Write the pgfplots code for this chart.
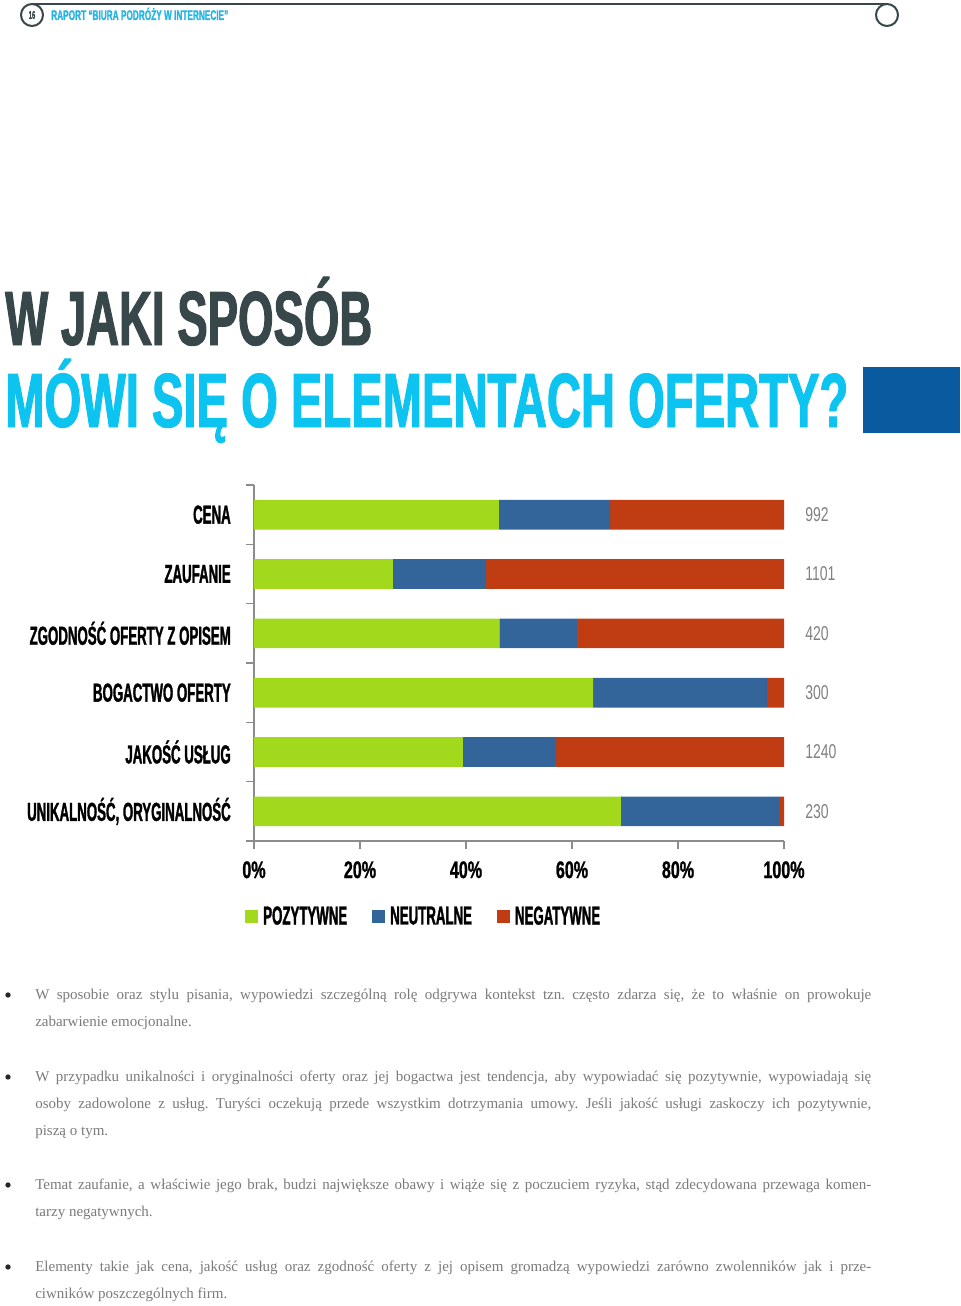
\documentclass[border=0pt]{standalone}
\usepackage{pgfplots}
\pgfplotsset{compat=1.18}
\usepackage{fontspec}
\setmainfont{Liberation Serif}
\newfontfamily\condb{Liberation Sans}[FakeStretch=0.51, FakeBold=1.2]
\newfontfamily\condt{Liberation Sans}[FakeStretch=0.67, FakeBold=1]
\newfontfamily\condv{Liberation Sans}[FakeStretch=0.7]
\definecolor{cgreen}{HTML}{A2D91C}
\definecolor{cblue}{HTML}{33659A}
\definecolor{cred}{HTML}{C03D14}
\definecolor{dark}{HTML}{37474A}
\definecolor{cyanA}{HTML}{0DC4F0}
\definecolor{cyanB}{HTML}{27B4E2}
\definecolor{navy}{HTML}{0A5AA0}
\definecolor{txtgray}{HTML}{7A7A7A}
\definecolor{axgray}{HTML}{8C8C8C}
\definecolor{valgray}{HTML}{808080}
\newsavebox\fitbox
\newlength\fitlen
\newcommand\fitw[2]{\sbox\fitbox{#2}\fitlen=\wd\fitbox\pgfmathsetmacro\fitsc{#1*0.75/\fitlen}\scalebox{\fitsc}[1]{\usebox\fitbox}}
\newcommand\jl[1]{\makebox[627pt][s]{#1}}
\newcommand\txtf{\fontsize{11.25pt}{14pt}\selectfont}
\frenchspacing
\begin{document}
\begin{tikzpicture}[x=0.75pt,y=-0.75pt]
\path (0,0) rectangle (960,1306);
\coordinate (O) at (254,841);
% header
\draw[dark, line width=1.1pt] (32,4) -- (887,4);
\draw[dark, line width=1.5pt, fill=white] (32,15) circle[radius=8.25pt];
\node[font=\condb\bfseries\fontsize{8.5pt}{8.5pt}\selectfont, text=dark, inner sep=0pt] at (32,15) {16};
\draw[dark, line width=1.5pt, fill=white] (887,15) circle[radius=8.25pt];
\node[anchor=base west, inner sep=0pt, text=cyanB, font=\condb\bfseries\fontsize{10.5pt}{11pt}\selectfont] at (51,20) {\fitw{177}{RAPORT “BIURA PODRÓŻY W INTERNECIE”}};
% title
\node[anchor=base west, inner sep=0pt, text=dark, font=\condb\bfseries\fontsize{57.6pt}{60pt}\selectfont] at (5,345) {\fitw{367}{W JAKI SPOSÓB}};
\node[anchor=base west, inner sep=0pt, text=cyanA, font=\condb\bfseries\fontsize{57.6pt}{60pt}\selectfont] at (5,427) {\fitw{843}{MÓWI SIĘ O ELEMENTACH OFERTY?}};
\fill[navy] (863,367) rectangle (960,433);
% chart
\begin{axis}[
  at={(O)}, anchor=south west, scale only axis,
  width=397.5pt, height=267pt,
  xbar stacked, bar width=0.5,
  xmin=0, xmax=100, ymin=-0.5, ymax=5.5,
  clip=false,
  axis x line*=bottom, axis y line*=left,
  axis line style={axgray, line width=0.8pt},
  tick align=outside, major tick length=6pt,
  tick style={axgray, line width=0.8pt},
  xtick={0,20,40,60,80,100},
  xticklabels={0\%,20\%,40\%,60\%,80\%,100\%},
  xticklabel style={font=\condt\bfseries\fontsize{18pt}{18pt}\selectfont, inner sep=0pt, anchor=north, yshift=-9pt},
  ytick={-0.5,0.5,1.5,2.5,3.5,4.5,5.5},
  yticklabels={},
  extra y ticks={0,1,2,3,4,5},
  extra y tick labels={{UNIKALNOŚĆ, ORYGINALNOŚĆ},{JAKOŚĆ USŁUG},{BOGACTWO OFERTY},{ZGODNOŚĆ OFERTY Z OPISEM},{ZAUFANIE},{CENA}},
  extra y tick style={major tick length=0pt, yticklabel style={font=\condb\bfseries\fontsize{19.5pt}{20pt}\selectfont, anchor=east, inner sep=0pt, xshift=-17.25pt}},
  legend style={at={(-0.017,-0.212)}, anchor=west, draw=none, fill=none, legend columns=3, inner sep=0pt,
    font=\condb\bfseries\fontsize{19.5pt}{20pt}\selectfont,
    /tikz/every odd column/.append style={column sep=3.75pt},
    /tikz/every even column/.append style={column sep=18.75pt},
    nodes={inner sep=0pt}},
  legend cell align=left,
  legend image code/.code={\fill[#1] (0pt,-4.65pt) rectangle (9.75pt,5.1pt);},
]
\addplot[fill=cgreen, draw=none] coordinates {(69.2,0) (39.4,1) (64.0,2) (46.3,3) (26.2,4) (46.2,5)};
\addplot[fill=cblue, draw=none] coordinates {(30.0,0) (17.6,1) (32.8,2) (14.6,3) (17.6,4) (21.0,5)};
\addplot[fill=cred, draw=none] coordinates {(0.8,0) (43.0,1) (3.2,2) (39.1,3) (56.2,4) (32.8,5)};
\legend{POZYTYWNE,NEUTRALNE,NEGATYWNE}
\node[anchor=west, inner sep=0pt, text=valgray, font=\condv\fontsize{15pt}{15pt}\selectfont, xshift=15.75pt] at (axis cs:100,5) {992};
\node[anchor=west, inner sep=0pt, text=valgray, font=\condv\fontsize{15pt}{15pt}\selectfont, xshift=15.75pt] at (axis cs:100,4) {1101};
\node[anchor=west, inner sep=0pt, text=valgray, font=\condv\fontsize{15pt}{15pt}\selectfont, xshift=15.75pt] at (axis cs:100,3) {420};
\node[anchor=west, inner sep=0pt, text=valgray, font=\condv\fontsize{15pt}{15pt}\selectfont, xshift=15.75pt] at (axis cs:100,2) {300};
\node[anchor=west, inner sep=0pt, text=valgray, font=\condv\fontsize{15pt}{15pt}\selectfont, xshift=15.75pt] at (axis cs:100,1) {1240};
\node[anchor=west, inner sep=0pt, text=valgray, font=\condv\fontsize{15pt}{15pt}\selectfont, xshift=15.75pt] at (axis cs:100,0) {230};
\end{axis}
% bullet text
\tikzset{tl/.style={anchor=base west, inner sep=0pt, text=txtgray, font=\txtf}}
\fill[black!85] (8,995) circle[radius=2pt];
\node[tl] at (35,999) {\jl{W sposobie oraz stylu pisania, wypowiedzi szczególną rolę odgrywa kontekst tzn. często zdarza się, że to właśnie on prowokuje}};
\node[tl] at (35,1026) {zabarwienie emocjonalne.};
\fill[black!85] (8,1077) circle[radius=2pt];
\node[tl] at (35,1081) {\jl{W przypadku unikalności i oryginalności oferty oraz jej bogactwa jest tendencja, aby wypowiadać się pozytywnie, wypowiadają się}};
\node[tl] at (35,1108) {\jl{osoby zadowolone z usług. Turyści oczekują przede wszystkim dotrzymania umowy. Jeśli jakość usługi zaskoczy ich pozytywnie,}};
\node[tl] at (35,1135) {piszą o tym.};
\fill[black!85] (8,1185) circle[radius=2pt];
\node[tl] at (35,1189) {\jl{Temat zaufanie, a właściwie jego brak, budzi największe obawy i wiąże się z poczuciem ryzyka, stąd zdecydowana przewaga komen-}};
\node[tl] at (35,1216) {tarzy negatywnych.};
\fill[black!85] (8,1267) circle[radius=2pt];
\node[tl] at (35,1271) {\jl{Elementy takie jak cena, jakość usług oraz zgodność oferty z jej opisem gromadzą wypowiedzi zarówno zwolenników jak i prze-}};
\node[tl] at (35,1298) {ciwników poszczególnych firm.};
\end{tikzpicture}
\end{document}
